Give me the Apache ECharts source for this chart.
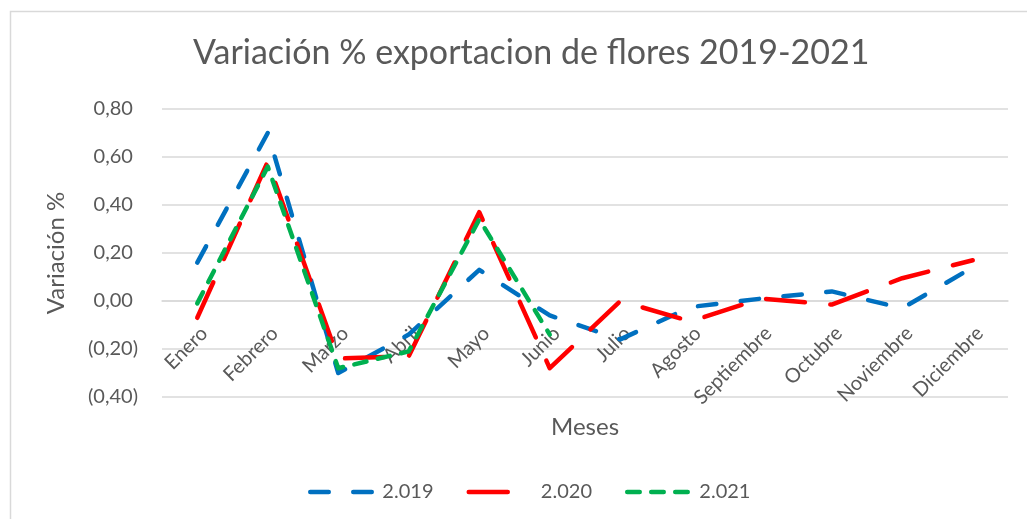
<!DOCTYPE html>
<html>
<head>
<meta charset="utf-8">
<script src="https://cdn.jsdelivr.net/npm/echarts@6/dist/echarts.min.js"></script>
<style>
html,body{margin:0;padding:0;background:#fff;}
#chart{width:1027px;height:519px;}
</style>
</head>
<body>
<div id="chart"></div>
<script>
const months = ['Enero','Febrero','Marzo','Abril','Mayo','Junio','Julio','Agosto','Septiembre','Octubre','Noviembre','Diciembre'];
const s2019 = [0.16, 0.70, -0.30, -0.14, 0.13, -0.06, -0.16, -0.025, 0.01, 0.04, -0.03, 0.14];
const s2020 = [-0.07, 0.58, -0.24, -0.23, 0.37, -0.28, 0.00, -0.085, 0.01, -0.015, 0.095, 0.17];
const s2021 = [-0.01, 0.56, -0.28, -0.21, 0.34, -0.14, null, null, null, null, null, null];
const seriesNames = ['2.019', '2.020', '2.021'];
const yTicks = [-0.4, -0.2, 0, 0.2, 0.4, 0.6, 0.8];

const FONT = 'Lato';
const TXT = '#595959';
const Y_MIN = yTicks[0], Y_MAX = yTicks[yTicks.length - 1];
const GRID_TOP = 109, GRID_BOTTOM = 122, CH = 519;
const plotH = CH - GRID_TOP - GRID_BOTTOM;
// distance from the plot bottom up to the zero line (x axis crosses at 0)
const zeroOffset = -plotH * (0 - Y_MIN) / (Y_MAX - Y_MIN);

function fmt(v){
  const a = Math.abs(v).toFixed(2).replace('.', ',');
  return v < -1e-9 ? '(' + a + ')' : a + ' ';
}

const chart = echarts.init(document.getElementById('chart'));
chart.setOption({
  backgroundColor: '#fff',
  animation: false,
  textStyle: { fontFamily: FONT },
  title: {
    text: 'Variación % exportacion de flores 2019-2021',
    left: 188, top: 31,
    textStyle: { fontFamily: FONT, fontSize: 34, fontWeight: 'normal', color: TXT }
  },
  graphic: [{
    type: 'rect', left: 8, top: 9, z: -1,
    shape: { width: 1040, height: 540 },
    style: { fill: 'none', stroke: '#d9d9d9', lineWidth: 1.5 }
  }],
  legend: {
    top: 477, left: 303,
    itemWidth: 62, itemHeight: 24, itemGap: 33,
    itemStyle: { opacity: 0 },
    lineStyle: { width: 4.5, cap: 'round' },
    formatter: ' {name}',
    textStyle: { fontFamily: FONT, fontSize: 20, color: TXT },
    data: seriesNames
  },
  grid: { left: 162, right: 19, top: GRID_TOP, bottom: GRID_BOTTOM, containLabel: false, outerBoundsMode: 'none' },
  xAxis: {
    type: 'category', data: months, boundaryGap: true,
    offset: zeroOffset,
    name: 'Meses', nameLocation: 'middle', nameGap: 107,
    nameTextStyle: { fontFamily: FONT, fontSize: 24, color: TXT },
    axisLine: { show: true, onZero: false, lineStyle: { color: '#d9d9d9', width: 1.5 } },
    axisTick: { show: false },
    axisLabel: { rotate: 45, fontSize: 20, color: TXT, margin: 22, interval: 0, fontFamily: FONT, verticalAlign: 'top' }
  },
  yAxis: {
    type: 'value', min: Y_MIN, max: Y_MAX, interval: 0.2,
    name: 'Variación %', nameLocation: 'middle', nameGap: 94,
    nameTextStyle: { fontFamily: FONT, fontSize: 24, color: TXT },
    axisLine: { show: false }, axisTick: { show: false },
    axisLabel: { fontSize: 20, color: TXT, margin: 24, fontFamily: FONT, formatter: fmt },
    splitLine: { lineStyle: { color: '#d9d9d9', width: 1.5 } }
  },
  series: [
    { name: seriesNames[0], type: 'line', data: s2019, symbol: 'none', z: 2,
      itemStyle: { color: '#0070c0' },
      lineStyle: { color: '#0070c0', width: 4.5, type: [18.5, 24.5], cap: 'round', join: 'round' } },
    { name: seriesNames[1], type: 'line', data: s2020, symbol: 'none', z: 3,
      itemStyle: { color: '#ff0000' },
      lineStyle: { color: '#ff0000', width: 4.5, type: [39, 25.5], cap: 'round', join: 'round' } },
    { name: seriesNames[2], type: 'line', data: s2021, symbol: 'none', z: 4,
      itemStyle: { color: '#00b050' },
      lineStyle: { color: '#00b050', width: 4.5, type: [12.5, 11.5], cap: 'round', join: 'round' } }
  ]
});
</script>
</body>
</html>
